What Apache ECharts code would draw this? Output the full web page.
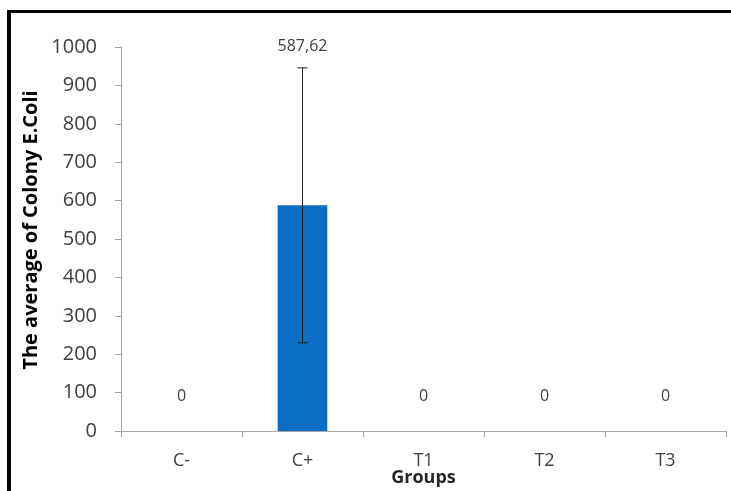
<!DOCTYPE html>
<html>
<head>
<meta charset="utf-8">
<script src="https://cdn.jsdelivr.net/npm/echarts@6/dist/echarts.min.js"></script>
<style>html,body{margin:0;padding:0;background:#fff}#c{width:731px;height:491px}</style>
</head>
<body>
<div id="c"></div>
<script>
const categories = ['C-', 'C+', 'T1', 'T2', 'T3'];
const means = [0, 587.62, 0, 0, 0];
const errors = [0, 358, 0, 0, 0];
const yTicks = [0, 100, 200, 300, 400, 500, 600, 700, 800, 900, 1000];
const yTitle = 'The average of Colony E.Coli';
const xTitle = 'Groups';

const FONT = 'Open Sans';
const fmt = v => v.toFixed(2).replace('.', ',').replace(/,00$/, '');

const chart = echarts.init(document.getElementById('c'), null, {renderer: 'canvas'});
chart.setOption({
  animation: false,
  backgroundColor: '#fff',
  grid: {left: 121, right: 5, top: 47, bottom: 60, containLabel: false, outerBoundsMode: 'none'},
  xAxis: {
    type: 'category',
    data: categories,
    name: xTitle,
    nameLocation: 'middle',
    nameGap: 38,
    nameMoveOverlap: false,
    nameTextStyle: {fontFamily: FONT, fontWeight: 'bold', fontSize: 18, color: '#262626'},
    axisLine: {lineStyle: {color: '#a6a6a6', width: 1}},
    axisTick: {show: true, alignWithLabel: false, length: 6, lineStyle: {color: '#a6a6a6'}},
    axisLabel: {fontFamily: FONT, fontSize: 18, color: '#404040', margin: 21}
  },
  yAxis: {
    type: 'value',
    min: yTicks[0],
    max: yTicks[yTicks.length - 1],
    interval: yTicks[1] - yTicks[0],
    name: yTitle,
    nameLocation: 'middle',
    nameGap: 80,
    nameMoveOverlap: false,
    nameTextStyle: {fontFamily: FONT, fontWeight: 'bold', fontSize: 20, color: '#000', padding: [0, 0, 0, 18]},
    axisLine: {show: true, lineStyle: {color: '#a6a6a6', width: 1}},
    axisTick: {show: true, length: 6, lineStyle: {color: '#a6a6a6'}},
    splitLine: {show: false},
    axisLabel: {fontFamily: FONT, fontSize: 20, color: '#404040', margin: 24, formatter: v => String(v)}
  },
  series: [
    {
      type: 'bar',
      data: means.map((v, i) => ({
        value: v,
        label: {show: errors[i] === 0}
      })),
      barWidth: '41%',
      itemStyle: {color: '#0a6fc4'},
      label: {
        position: 'top',
        distance: 5,
        offset: [0, -22],
        fontFamily: FONT,
        fontSize: 16,
        color: '#404040',
        formatter: p => fmt(p.value)
      }
    },
    {
      type: 'custom',
      data: means.map((v, i) => [i, v, errors[i]]),
      renderItem: (params, api) => {
        const i = api.value(0), m = api.value(1), e = api.value(2);
        if (!e) return null;
        const top = api.coord([i, m + e]);
        const bot = api.coord([i, m - e]);
        const cap = 5;
        const ls = {stroke: '#1a1a1a', lineWidth: 1};
        return {
          type: 'group',
          children: [
            {type: 'line', shape: {x1: top[0], y1: top[1], x2: bot[0], y2: bot[1]}, style: ls},
            {type: 'line', shape: {x1: top[0] - cap, y1: top[1], x2: top[0] + cap, y2: top[1]}, style: ls},
            {type: 'line', shape: {x1: bot[0] - cap, y1: bot[1], x2: bot[0] + cap, y2: bot[1]}, style: ls},
            {type: 'text', style: {x: top[0], y: top[1] - 21, text: fmt(m), textAlign: 'center', textVerticalAlign: 'middle', font: '16px "Open Sans"', fill: '#404040'}}
          ]
        };
      },
      z: 10
    }
  ],
  graphic: [
    {type: 'rect', shape: {x: 7, y: 10, width: 4, height: 481}, style: {fill: '#000'}},
    {type: 'rect', shape: {x: 7, y: 10, width: 724, height: 3}, style: {fill: '#000'}}
  ]
});
</script>
</body>
</html>
